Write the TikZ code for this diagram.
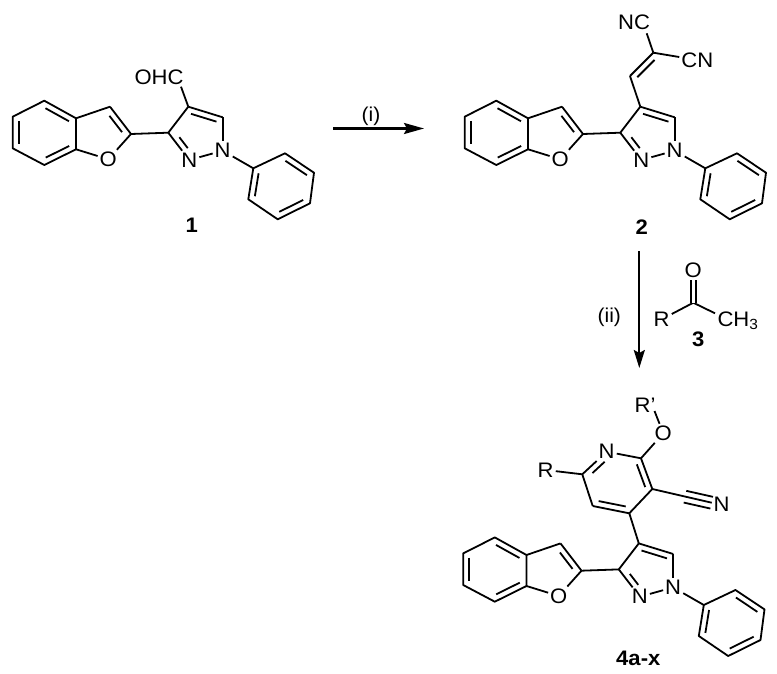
\documentclass[tikz,border=0pt]{standalone}
\usepackage{fontspec}
\setmainfont[FakeStretch=1.05]{Liberation Sans}
\usetikzlibrary{calc,arrows.meta}
% inner line of a double bond, on the left of a->b
\newcommand{\innerbond}[3][.13]{\draw ($(#2)!#1!(#3)!6pt!90:(#3)$) -- ($(#3)!#1!(#2)!6pt!-90:(#2)$);}
\tikzset{
  every path/.style={line width=1.8pt},
  every node/.style={inner sep=1.2pt,font=\fontsize{21}{22}\selectfont},
  tag/.style={font=\fontsize{21}{22}\selectfont\bfseries},
  reagent/.style={font=\fontsize{20}{22}\selectfont},
  pics/core/.style={code={
    \draw
      (44.3,100.7) coordinate (-b1)
      (12.7,116.7) coordinate (-b2)
      (12.7,148.3) coordinate (-b3)
      (44.3,165.0) coordinate (-b4)
      (76.0,149.3) coordinate (-b5)
      (76.0,118.3) coordinate (-b6)
      (110.0,106.7) coordinate (-f3)
      (131.0,134.0) coordinate (-f2)
      (108.3,159.3) node (-o){O}
      (168.3,132.7) coordinate (-p3)
      (188.3,106.7) coordinate (-p4)
      (222.7,117.3) coordinate (-p5)
      (222.7,150.7) node (-n1){N}
      (189.3,160.0) node (-n2){N}
      (253.3,168.3) coordinate (-h1)
      (248.3,199.3) coordinate (-h2)
      (277.7,219.3) coordinate (-h3)
      (310.0,203.3) coordinate (-h4)
      (314.0,172.7) coordinate (-h5)
      (285.0,153.3) coordinate (-h6);
    \draw[line join=round] (-b1) -- (-b2) -- (-b3) -- (-b4) -- (-b5) -- (-b6) -- cycle;
    \draw[line join=round] (-h1) -- (-h2) -- (-h3) -- (-h4) -- (-h5) -- (-h6) -- cycle;
    \draw (-b6) to (-f3);
    \draw (-f3) to (-f2);
    \draw (-f2) to (-o);
    \draw (-o) to (-b5);
    \draw (-f2) to (-p3);
    \draw (-p3) to (-p4);
    \draw (-p4) to (-p5);
    \draw (-p5) to (-n1);
    \draw (-n1) to (-n2);
    \draw (-n2) to (-p3);
    \draw (-n1) to (-h1);
    \innerbond{-b6}{-b1}
    \innerbond{-b2}{-b3}
    \innerbond{-b4}{-b5}
    \innerbond[.2]{-f2}{-f3}
    \innerbond[.3]{-p3}{-n2}
    \innerbond{-p5}{-p4}
    \innerbond{-h1}{-h2}
    \innerbond{-h3}{-h4}
    \innerbond{-h5}{-h6}
  }}
}
\begin{document}
\begin{tikzpicture}[x=1pt,y=-1pt]
  \useasboundingbox (0,0) rectangle (777,674);
  \pic (one) at (0,0) {core};
  \pic (two) at (452,0) {core};
  \pic (four) at (450.5,436.7) {core};
  % compound 1
  \draw
    (159,77.3) node (ohc){OHC}
    (181,86.7) coordinate (ohcend)
    (191.7,225) node[tag] (lone){1};
  \draw (one-p4) to (ohcend);
  % compound 2
  \draw
    (630,76) coordinate (cha)
    (653.3,52.7) coordinate (chb)
    (634,22.7) node (nc){NC}
    (646.7,33.3) coordinate (ncend)
    (697.3,60) node (cn){CN}
    (641.7,226.7) node[tag] (ltwo){2};
  \draw (two-p4) to (cha);
  \draw (cha) to (chb);
  \innerbond{chb}{cha}
  \draw (chb) to (ncend);
  \draw (chb) to (cn);
  % compound 3
  \draw
    (661.7,319.3) node (r){R}
    (693.3,302.7) coordinate (co)
    (693.3,270.7) node (oxo){O}
    (738,321) node (ch){CH\textsubscript{3}}
    (715,313.3) coordinate (chend)
    (698.3,339) node[tag] (lthree){3};
  \draw (r) to (co);
  \draw (co) to (chend);
  \draw[double,double distance=3.2pt,line width=1.6pt] (co) to (oxo);
  % compound 4
  \draw
    (629.3,513.3) coordinate (y4)
    (652.3,489.0) coordinate (y3)
    (641.0,458.3) coordinate (y2)
    (606.7,451.7) node (yn){N}
    (582.3,474.3) coordinate (y6)
    (592.7,506.0) coordinate (y5)
    (663.3,433.3) node (yo){O}
    (645,405) node (rp){R'}
    (654.5,411) coordinate (rpend)
    (545.7,470) node (rr){R}
    (685,496.7) coordinate (tb)
    (711.7,502.7) coordinate (te)
    (721.7,504) node (tn){N}
    (638.3,658.3) node[tag] (lfour){4a-x};
  \draw (four-p4) to (y4);
  \draw (y4) to (y3);
  \draw (y3) to (y2);
  \draw (y2) to (yn);
  \draw (yn) to (y6);
  \draw (y6) to (y5);
  \draw (y5) to (y4);
  \draw (y2) to (yo);
  \draw (yo) to (rpend);
  \draw (y6) to (rr);
  \draw (y3) to (te);
  \innerbond[0]{tb}{te}
  \innerbond[0]{te}{tb}
  \innerbond{y3}{y2}
  \innerbond[.25]{yn}{y6}
  \innerbond{y5}{y4}
  % arrows
  \draw
    (333,128.5) coordinate (ia)
    (424,128.5) coordinate (ib)
    (371,116) node[reagent] (li){(i)}
    (639.3,251) coordinate (iia)
    (639.3,368) coordinate (iib)
    (609.3,317) node[reagent] (lii){(ii)};
  \draw[line width=2.2pt,-{Stealth[length=20pt,width=11pt,inset=3pt]}] (ia) to (ib);
  \draw[line width=2.2pt,-{Stealth[length=18pt,width=11pt,inset=3pt]}] (iia) to (iib);
\end{tikzpicture}
\end{document}
